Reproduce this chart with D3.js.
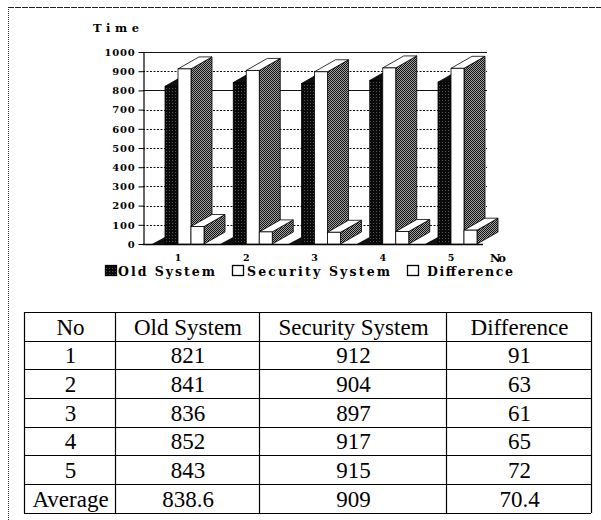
<!DOCTYPE html>
<html>
<head>
<meta charset="utf-8">
<script src="https://cdn.jsdelivr.net/npm/d3@7"></script>
<style>
  html, body { margin: 0; padding: 0; background: #fff; }
  svg { display: block; }
</style>
</head>
<body>
<svg id="chart" width="601" height="520"></svg>
<script>
// ---------- data ----------
const categories = ["1", "2", "3", "4", "5"];
const seriesNames = ["Old System", "Security System", "Difference"];
const oldSystem = [821, 841, 836, 852, 843];
const securitySystem = [912, 904, 897, 917, 915];
const difference = [91, 63, 61, 65, 72];
const averages = [838.6, 909, 70.4];
const yTicks = [0, 100, 200, 300, 400, 500, 600, 700, 800, 900, 1000];
const tableHeader = ["No", "Old System", "Security System", "Difference"];
const averageLabel = "Average";
const yTitle = "Time";
const xTitle = "No";

// ---------- layout ----------
const svg = d3.select("#chart");
const plot = { left: 143, right: 487, top: 52, bottom: 244 };
const depth = { dx: 21, dy: -12 };

const y = d3.scaleLinear().domain([0, 1000]).range([plot.bottom, plot.top]);
const xGroup = d3.scalePoint().domain(categories).range([165, 438]);
const xSeries = d3.scaleBand().domain(seriesNames).range([0, 39]).padding(0);

// patterns
const defs = svg.append("defs");
const pat = defs.append("pattern").attr("id", "dither").attr("width", 2).attr("height", 2)
  .attr("patternUnits", "userSpaceOnUse");
pat.append("rect").attr("width", 2).attr("height", 2).attr("fill", "#a0a0a0");
pat.append("rect").attr("x", 0).attr("y", 0).attr("width", 1).attr("height", 1).attr("fill", "#111");
pat.append("rect").attr("x", 1).attr("y", 1).attr("width", 1).attr("height", 1).attr("fill", "#111");
const patD = defs.append("pattern").attr("id", "darkdither").attr("width", 3).attr("height", 3)
  .attr("patternUnits", "userSpaceOnUse");
patD.append("rect").attr("width", 3).attr("height", 3).attr("fill", "#0a0a0a");
patD.append("rect").attr("x", 1).attr("y", 1).attr("width", 1).attr("height", 1).attr("fill", "#555");

// ---------- outer frame ----------
svg.append("line").attr("x1", 8).attr("x2", 601).attr("y1", 7.5).attr("y2", 7.5)
  .attr("stroke", "#222").attr("stroke-width", 1.2).attr("stroke-dasharray", "6,1");
svg.append("line").attr("x1", 8.5).attr("x2", 8.5).attr("y1", 7).attr("y2", 520)
  .attr("stroke", "#333").attr("stroke-width", 1).attr("stroke-dasharray", "1,1");

// ---------- gridlines ----------
const g = svg.append("g");
g.selectAll("line.grid").data(yTicks.filter(d => d > 0)).join("line")
  .attr("class", "grid")
  .attr("x1", plot.left).attr("x2", plot.right)
  .attr("y1", d => Math.round(y(d)) + 0.5).attr("y2", d => Math.round(y(d)) + 0.5)
  .attr("stroke", "#111")
  .attr("stroke-width", d => (d === 1000 || d === 800) ? 1.2 : 1)
  .attr("stroke-dasharray", d => (d === 1000 || d === 800) ? null : "2,1.5");
// floor line
g.append("line").attr("x1", plot.left).attr("x2", 483)
  .attr("y1", y(0) + 0.5).attr("y2", y(0) + 0.5).attr("stroke", "#000").attr("stroke-width", 1.3);

// y axis
const yAxis = d3.axisLeft(y).tickValues(yTicks).tickFormat(d3.format("d"))
  .tickSize(5).tickPadding(3).tickSizeOuter(0);
const ax = svg.append("g").attr("transform", `translate(${plot.left + 0.5},0)`).call(yAxis);
ax.select(".domain").attr("stroke", "#000").attr("stroke-width", 1.2);
ax.selectAll(".tick line").attr("stroke", "#000");
ax.selectAll(".tick text")
  .attr("font-family", "DejaVu Serif").attr("font-weight", "bold").attr("font-size", 10)
  .attr("letter-spacing", 0.8).attr("fill", "#000");

svg.append("text").attr("x", 93).attr("y", 32).text(yTitle)
  .attr("font-family", "DejaVu Serif").attr("font-weight", "bold").attr("font-size", 11.5)
  .attr("textLength", 46).attr("lengthAdjust", "spacing");

// ---------- 3D bars ----------
const seriesValues = [oldSystem, securitySystem, difference];
const frontFill = ["url(#darkdither)", "#fff", "#fff"];
const topFill = ["#111", "#fff", "#fff"];

function box(sel, x0, x1, yTop, yBot, fFront, fTop) {
  const { dx, dy } = depth;
  sel.append("polygon")
    .attr("points", [[x1, yTop], [x1 + dx, yTop + dy], [x1 + dx, yBot + dy], [x1, yBot]].join(" "))
    .attr("fill", "url(#dither)").attr("stroke", "#000").attr("stroke-width", 0.8);
  sel.append("polygon")
    .attr("points", [[x0, yTop], [x1, yTop], [x1 + dx, yTop + dy], [x0 + dx, yTop + dy]].join(" "))
    .attr("fill", fTop).attr("stroke", "#000").attr("stroke-width", 0.8);
  sel.append("rect").attr("x", x0).attr("y", yTop).attr("width", x1 - x0).attr("height", yBot - yTop)
    .attr("fill", fFront).attr("stroke", "#000").attr("stroke-width", 0.8);
}

const bars = svg.append("g");
categories.forEach((c, i) => {
  const gx = xGroup(c);
  bars.append("polygon")
    .attr("points", [[gx - 13, y(0)], [gx, y(0)], [gx, y(0) - 7]].join(" "))
    .attr("fill", "#111");
  seriesNames.forEach((s, k) => {
    const x0 = gx + xSeries(s);
    const x1 = x0 + xSeries.bandwidth();
    box(bars, x0, x1, y(seriesValues[k][i]), y(0), frontFill[k], topFill[k]);
  });
});

// category labels
svg.selectAll("text.cat").data(categories).join("text").attr("class", "cat")
  .attr("x", d => xGroup(d) + xSeries.bandwidth())
  .attr("y", 261).attr("text-anchor", "middle").text(d => d)
  .attr("font-family", "DejaVu Serif").attr("font-weight", "bold").attr("font-size", 9.5);
svg.append("text").attr("x", 490).attr("y", 262).text(xTitle)
  .attr("font-family", "DejaVu Serif").attr("font-weight", "bold").attr("font-size", 11.5)
  .attr("textLength", 16).attr("lengthAdjust", "spacing");

// ---------- legend ----------
const legendItems = [
  { name: seriesNames[0], sx: 105, tx: 118, tw: 97, fill: "url(#darkdither)" },
  { name: seriesNames[1], sx: 232, tx: 247, tw: 143, fill: "#fff" },
  { name: seriesNames[2], sx: 407, tx: 427, tw: 86, fill: "#fff" }
];
const lg = svg.append("g");
legendItems.forEach(it => {
  lg.append("rect").attr("x", it.sx + 0.5).attr("y", 265.5).attr("width", 11).attr("height", 10)
    .attr("fill", it.fill).attr("stroke", "#000").attr("stroke-width", 1.3);
  lg.append("text").attr("x", it.tx).attr("y", 275.5).text(it.name)
    .attr("font-family", "DejaVu Serif").attr("font-weight", "bold").attr("font-size", 12.5)
    .attr("textLength", it.tw).attr("lengthAdjust", "spacing");
});

// ---------- table ----------
const colEdges = [24, 115, 259, 446, 591];
const rowEdges = [312, 341, 369, 398, 427, 455, 484, 513];
const rows = [tableHeader]
  .concat(categories.map((c, i) => [c, oldSystem[i], securitySystem[i], difference[i]]))
  .concat([[averageLabel].concat(averages)]);

const tg = svg.append("g");
rowEdges.forEach(yy => tg.append("line").attr("x1", colEdges[0]).attr("x2", colEdges[4])
  .attr("y1", yy + 0.5).attr("y2", yy + 0.5).attr("stroke", "#000").attr("stroke-width", 1.2));
colEdges.forEach(xx => tg.append("line").attr("x1", xx + 0.5).attr("x2", xx + 0.5)
  .attr("y1", rowEdges[0]).attr("y2", rowEdges[rowEdges.length - 1]).attr("stroke", "#000").attr("stroke-width", 1.2));

rows.forEach((r, ri) => {
  r.forEach((v, ci) => {
    tg.append("text")
      .attr("x", (colEdges[ci] + colEdges[ci + 1]) / 2 + 1)
      .attr("y", rowEdges[ri + 1] - 6)
      .attr("text-anchor", "middle")
      .attr("font-family", "Liberation Serif").attr("font-size", 23).attr("fill", "#000")
      .text(v);
  });
});
</script>
</body>
</html>
